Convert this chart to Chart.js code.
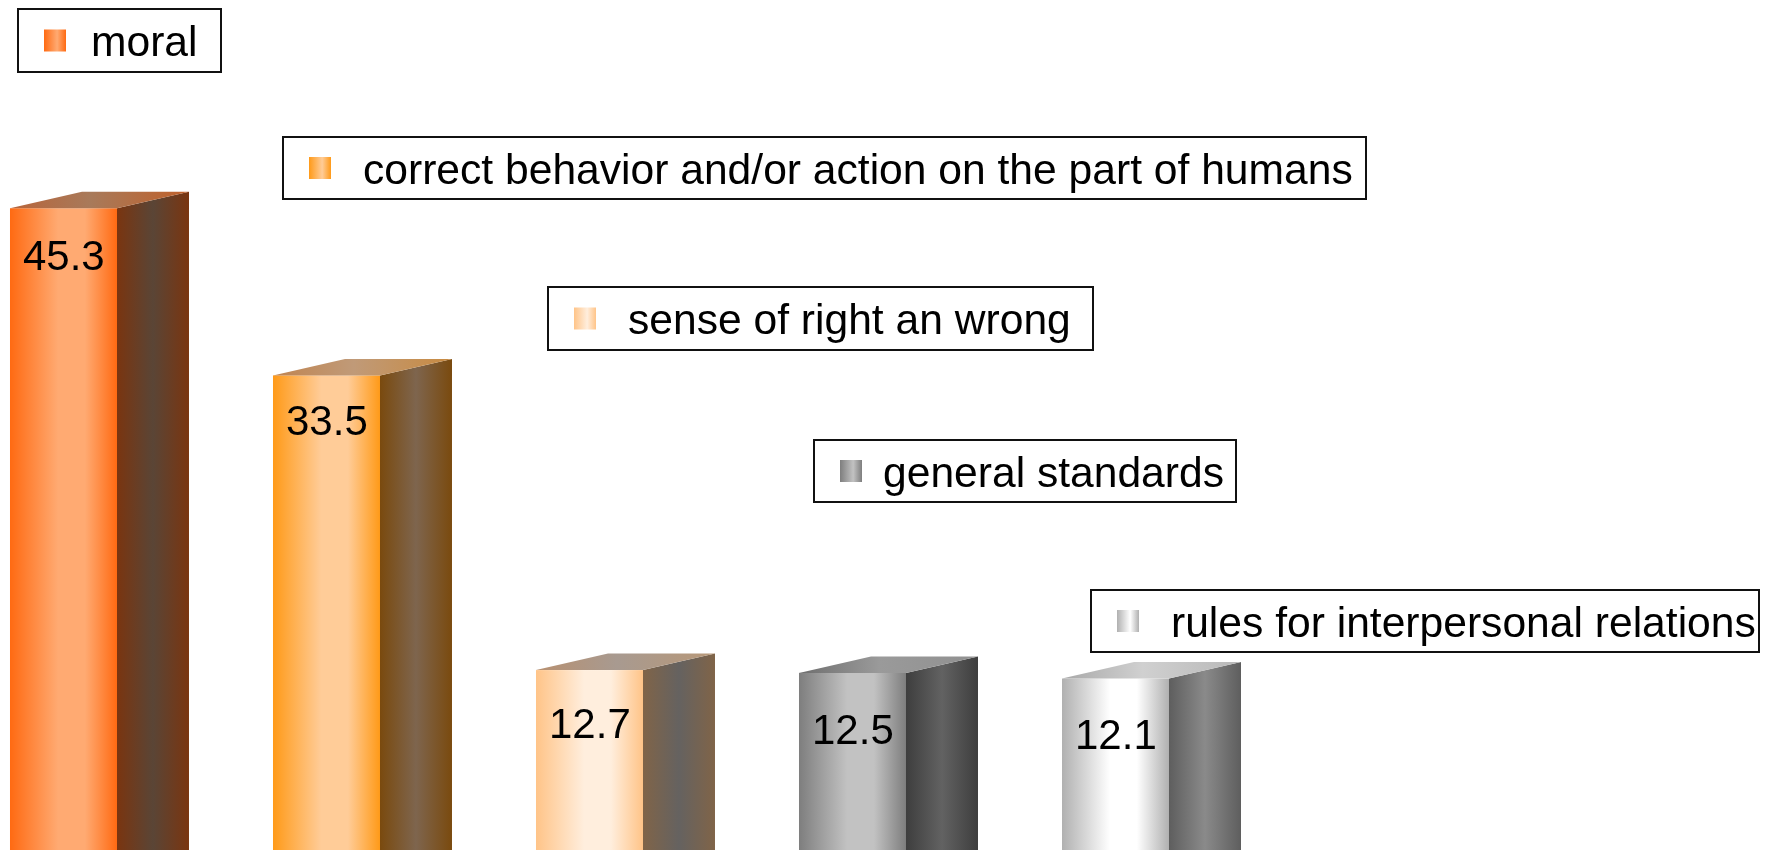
<!DOCTYPE html>
<html><head><meta charset="utf-8">
<script src="https://cdn.jsdelivr.net/npm/chart.js@4/dist/chart.umd.min.js"></script>
<style>html,body{margin:0;padding:0;background:#fff;overflow:hidden}#wrap{width:1780px;height:850px;position:relative}</style>
</head><body><div id="wrap"><canvas id="c" width="1780" height="850"></canvas></div>
<script>
// ---- data ----
const categories = ['moral', 'correct behavior and/or action on the part of humans', 'sense of right an wrong', 'general standards', 'rules for interpersonal relations'];
const values = [45.3, 33.5, 12.7, 12.5, 12.1];
const valueLabels = ['45.3', '33.5', '12.7', '12.5', '12.1'];

// ---- styles / layout ----
const FONT = "'Liberation Sans', Arial, sans-serif";
const palette = [
  {front: ['#FF6A12', '#FFAA72'], side: ['#7A3510', '#5A4536'], top: ['#B8643A', '#A87A5A', '#C0602A']},
  {front: ['#FF9A18', '#FFCC98'], side: ['#7A4A0E', '#7E654E'], top: ['#C08450', '#C09A78', '#C88A40']},
  {front: ['#FFC488', '#FFEEDD'], side: ['#806448', '#656260'], top: ['#B89070', '#A89A90', '#B89878']},
  {front: ['#7E7E7E', '#C2C2C2'], side: ['#3E3E3E', '#626262'], top: ['#6E6E6E', '#9A9A9A', '#909090']},
  {front: ['#B0B0B0', '#FFFFFF'], side: ['#5E5E5E', '#8A8A8A'], top: ['#A8A8A8', '#D0D0D0', '#B8B8B8']}
];
const legendBoxes = [
  {x: 18, y: 9, w: 203, h: 63, tx: 73},
  {x: 283, y: 137, w: 1083, h: 62, tx: 80},
  {x: 548, y: 287, w: 545, h: 63, tx: 80},
  {x: 814, y: 440, w: 422, h: 62, tx: 69},
  {x: 1091, y: 590, w: 668, h: 62, tx: 80}
];
const labelDrop = [62, 60, 68, 71, 70];
const DX = 72, DY = 16.5;

function hGrad(ctx, x0, x1, stops) {
  const g = ctx.createLinearGradient(x0, 0, x1, 0);
  stops.forEach(s => g.addColorStop(s[0], s[1]));
  return g;
}

const bars3d = {
  id: 'bars3d',
  afterDatasetsDraw(chart) {
    const ctx = chart.ctx;
    const meta = chart.getDatasetMeta(0);
    meta.data.forEach((el, i) => {
      const p = el.getProps(['x', 'y', 'base', 'width'], true);
      const xl = p.x - p.width / 2, xr = p.x + p.width / 2;
      const top = p.y, base = p.base;
      const c = palette[i];
      ctx.save();
      // front
      ctx.fillStyle = hGrad(ctx, xl, xr, [[0, c.front[0]], [0.45, c.front[1]], [0.7, c.front[1]], [1, c.front[0]]]);
      ctx.fillRect(xl, top, xr - xl, base - top);
      // side
      ctx.fillStyle = hGrad(ctx, xr, xr + DX, [[0, c.side[0]], [0.5, c.side[1]], [1, c.side[0]]]);
      ctx.beginPath();
      ctx.moveTo(xr, top); ctx.lineTo(xr + DX, top - DY); ctx.lineTo(xr + DX, base - DY + 40); ctx.lineTo(xr, base + 40);
      ctx.closePath(); ctx.fill();
      // top
      ctx.fillStyle = hGrad(ctx, xl, xr + DX, [[0, c.top[0]], [0.45, c.top[1]], [1, c.top[2]]]);
      ctx.beginPath();
      ctx.moveTo(xl, top); ctx.lineTo(xl + DX, top - DY); ctx.lineTo(xr + DX, top - DY); ctx.lineTo(xr, top);
      ctx.closePath(); ctx.fill();
      // label
      ctx.fillStyle = '#000';
      ctx.font = '42px ' + FONT;
      ctx.textAlign = 'left';
      ctx.textBaseline = 'alphabetic';
      ctx.fillText(valueLabels[i], xl + 13, top + labelDrop[i]);
      ctx.restore();
    });
  }
};

const boxLegend = {
  id: 'boxLegend',
  afterDraw(chart) {
    const ctx = chart.ctx;
    categories.forEach((name, i) => {
      const b = legendBoxes[i];
      ctx.save();
      ctx.fillStyle = '#fff';
      ctx.fillRect(b.x, b.y, b.w, b.h);
      ctx.lineWidth = 2;
      ctx.strokeStyle = '#111';
      ctx.strokeRect(b.x, b.y, b.w, b.h);
      const sx = b.x + 26, sy = b.y + b.h / 2 - 11;
      ctx.fillStyle = hGrad(ctx, sx, sx + 22, [[0, palette[i].front[0]], [0.6, palette[i].front[1]], [1, palette[i].front[0]]]);
      ctx.fillRect(sx, sy, 22, 22);
      ctx.fillStyle = '#000';
      ctx.font = '42.6px ' + FONT;
      ctx.textAlign = 'left';
      ctx.textBaseline = 'alphabetic';
      ctx.fillText(name, b.x + b.tx, b.y + 47);
      ctx.restore();
    });
  }
};

new Chart(document.getElementById('c'), {
  type: 'bar',
  data: {
    datasets: [{
      label: 'share',
      data: values.map((v, i) => ({x: i, y: v})),
      backgroundColor: 'rgba(0,0,0,0)',
      borderWidth: 0,
      barThickness: 107
    }]
  },
  options: {
    responsive: false,
    animation: false,
    devicePixelRatio: 1,
    layout: {padding: 0},
    scales: {
      x: {type: 'linear', offset: false, min: -0.2414, max: 6.5266, display: false},
      y: {min: 0, max: 60, display: false}
    },
    plugins: {legend: {display: false}, tooltip: {enabled: false}}
  },
  plugins: [bars3d, boxLegend]
});
</script>
</body></html>
